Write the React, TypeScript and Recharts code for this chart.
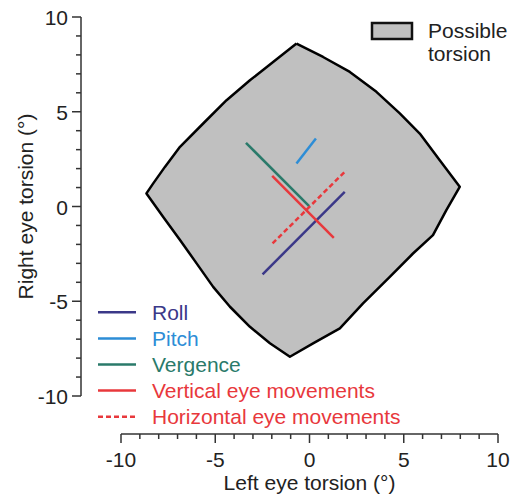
import { ScatterChart, Scatter, XAxis, YAxis, ReferenceLine, Legend } from "recharts";

// Axis ticks: every integer gets a tick, every 5th one a label
const axisTicks = [-10, -9, -8, -7, -6, -5, -4, -3, -2, -1, 0, 1, 2, 3, 4, 5, 6, 7, 8, 9, 10];
const majorTicks = [-10, -5, 0, 5, 10];

// Outline of the possible torsion region (left eye, right eye), clockwise from the top
const possibleTorsion: [number, number][] = [
  [-0.69, 8.6], [0.72, 7.89], [2.14, 7.1], [3.55, 6.05], [4.79, 4.91], [5.85, 3.85],
  [6.91, 2.44], [7.97, 1.04], [7.26, -0.19], [6.55, -1.51], [5.49, -2.48], [4.26, -3.71],
  [2.84, -5.11], [1.61, -6.43], [0.19, -7.22], [-1.04, -7.93], [-2.1, -7.22], [-3.16, -6.35],
  [-4.22, -5.29], [-5.11, -4.24], [-5.99, -3.0], [-6.87, -1.77], [-7.76, -0.55], [-8.65, 0.69],
  [-8.29, 1.22], [-7.67, 2.09], [-6.87, 3.15], [-5.64, 4.38], [-4.4, 5.61], [-3.16, 6.66],
  [-1.93, 7.63],
];

const roll: [number, number][] = [[-2.49, -3.58], [1.87, 0.77]];
const pitch: [number, number][] = [[-0.69, 2.27], [0.34, 3.59]];
const vergence: [number, number][] = [[-3.37, 3.36], [-0.02, 0.02]];
const verticalEye: [number, number][] = [[-1.98, 1.62], [1.29, -1.65]];
const horizontalEye: [number, number][] = [[-1.96, -1.95], [1.96, 1.92]];

const seriesNames = ["Roll", "Pitch", "Vergence", "Vertical eye movements", "Horizontal eye movements"];

const W = 514;
const H = 497;
const FONT = "'Liberation Sans', Arial, Helvetica, sans-serif";
const FS = 21;
const AXIS = "#333";
const TEXT = "#222";

const MARGIN = { top: 17, right: 16, bottom: 0, left: 21 };
const Y_AXIS_W = 60;
const X_AXIS_H = 63;
const PAD_LEFT = 40; // gap between y axis line and x = -10
const PAD_BOTTOM = 38; // gap between x axis line and y = -10

const plotW = W - MARGIN.left - MARGIN.right - Y_AXIS_W;
const plotH = H - MARGIN.top - MARGIN.bottom - X_AXIS_H;
// data values where the detached axis lines sit
const yAxisLineX = -10 - (PAD_LEFT * 20) / (plotW - PAD_LEFT);
const xAxisLineY = -10 - (PAD_BOTTOM * 20) / (plotH - PAD_BOTTOM);

const toPoints = (pts: [number, number][]) => pts.map(([x, y]) => ({ x, y }));

const segments = [
  { name: seriesNames[0], data: roll, color: "#3b3888", dashed: false },
  { name: seriesNames[1], data: pitch, color: "#2d8dd6", dashed: false },
  { name: seriesNames[2], data: vergence, color: "#2a7a6a", dashed: false },
  { name: seriesNames[3], data: verticalEye, color: "#e8383c", dashed: false },
  { name: seriesNames[4], data: horizontalEye, color: "#e8383c", dashed: true },
];

const noDot = () => <g />;

function XTick({ x, y, payload }: any) {
  const major = majorTicks.includes(payload.value);
  return (
    <g>
      <line x1={x} x2={x} y1={y} y2={y + (major ? 9 : 5)} stroke={AXIS} strokeWidth={1.5} />
      {major && (
        <text x={x} y={y + 33} textAnchor="middle" fontFamily={FONT} fontSize={FS} fill={TEXT}>
          {payload.value}
        </text>
      )}
    </g>
  );
}

function YTick({ x, y, payload }: any) {
  const major = majorTicks.includes(payload.value);
  return (
    <g>
      <line x1={x - (major ? 9 : 5)} x2={x} y1={y} y2={y} stroke={AXIS} strokeWidth={1.5} />
      {major && (
        <text x={x - 13} y={y + 8} textAnchor="end" fontFamily={FONT} fontSize={FS} fill={TEXT}>
          {payload.value}
        </text>
      )}
    </g>
  );
}

function XTitle({ viewBox }: any) {
  const cx = viewBox.x + PAD_LEFT + (viewBox.width - PAD_LEFT) / 2;
  return (
    <text x={cx} y={viewBox.y + 56} textAnchor="middle" fontFamily={FONT} fontSize={FS} fill={TEXT}>
      Left eye torsion (°)
    </text>
  );
}

function YTitle({ viewBox }: any) {
  const cy = viewBox.y + (viewBox.height - PAD_BOTTOM) / 2;
  const tx = viewBox.x + 12;
  return (
    <text
      transform={`translate(${tx},${cy}) rotate(-90)`}
      textAnchor="middle"
      fontFamily={FONT}
      fontSize={FS}
      fill={TEXT}
    >
      Right eye torsion (°)
    </text>
  );
}

function LegendOverlay() {
  const rowTop = 312.3;
  const rowStep = 26.1;
  return (
    <svg width={W} height={H} style={{ display: "block" }}>
      <rect x={372} y={23} width={40} height={16} fill="#c0c0c0" stroke="#111" strokeWidth={2.5} />
      <text x={428} y={38} fontFamily={FONT} fontSize={FS} fill={TEXT}>Possible</text>
      <text x={428} y={61} fontFamily={FONT} fontSize={FS} fill={TEXT}>torsion</text>
      {segments.map((s, i) => {
        const cy = rowTop + i * rowStep;
        return (
          <g key={s.name}>
            <line
              x1={98}
              x2={136}
              y1={cy}
              y2={cy}
              stroke={s.color}
              strokeWidth={2.5}
              strokeDasharray={s.dashed ? "5 3" : undefined}
            />
            <text x={152} y={cy + 7.5} fontFamily={FONT} fontSize={FS} fill={s.color}>
              {s.name}
            </text>
          </g>
        );
      })}
    </svg>
  );
}

export default function App() {
  const outline = toPoints([...possibleTorsion, possibleTorsion[0]]);
  return (
    <div style={{ position: "absolute", left: 0, top: 0 }}>
      <ScatterChart width={W} height={H} margin={MARGIN}>
        <XAxis
          type="number"
          dataKey="x"
          domain={[-10, 10]}
          ticks={axisTicks}
          interval={0}
          padding={{ left: PAD_LEFT, right: 0 }}
          axisLine={false}
          tickLine={false}
          tickSize={0}
          tickMargin={0}
          tick={<XTick />}
          height={X_AXIS_H}
          allowDataOverflow
          label={{ content: (p: any) => <XTitle {...p} /> }}
        />
        <YAxis
          type="number"
          dataKey="y"
          domain={[-10, 10]}
          ticks={axisTicks}
          interval={0}
          padding={{ top: 0, bottom: PAD_BOTTOM }}
          axisLine={false}
          tickLine={false}
          tickSize={0}
          tickMargin={0}
          tick={<YTick />}
          width={Y_AXIS_W}
          allowDataOverflow
          label={{ content: (p: any) => <YTitle {...p} /> }}
        />
        <ReferenceLine
          segment={[{ x: -10, y: xAxisLineY }, { x: 10, y: xAxisLineY }]}
          stroke={AXIS}
          strokeWidth={1.5}
          ifOverflow="visible"
        />
        <ReferenceLine
          segment={[{ x: yAxisLineX, y: -10 }, { x: yAxisLineX, y: 10 }]}
          stroke={AXIS}
          strokeWidth={1.5}
          ifOverflow="visible"
        />
        <Scatter
          name="Possible torsion"
          data={outline}
          shape={noDot}
          line={{ stroke: "#000", strokeWidth: 2.5, fill: "#c0c0c0", strokeLinejoin: "round" }}
          legendType="none"
          isAnimationActive={false}
        />
        {segments.map((s) => (
          <Scatter
            key={s.name}
            name={s.name}
            data={toPoints(s.data)}
            shape={noDot}
            line={{ stroke: s.color, strokeWidth: 2.5, strokeDasharray: s.dashed ? "5 3" : undefined }}
            legendType="none"
            isAnimationActive={false}
          />
        ))}
        <Legend
          layout="vertical"
          align="center"
          verticalAlign="middle"
          wrapperStyle={{ left: 0, top: 0, width: W, height: H, pointerEvents: "none" }}
          content={() => <LegendOverlay />}
        />
      </ScatterChart>
    </div>
  );
}
